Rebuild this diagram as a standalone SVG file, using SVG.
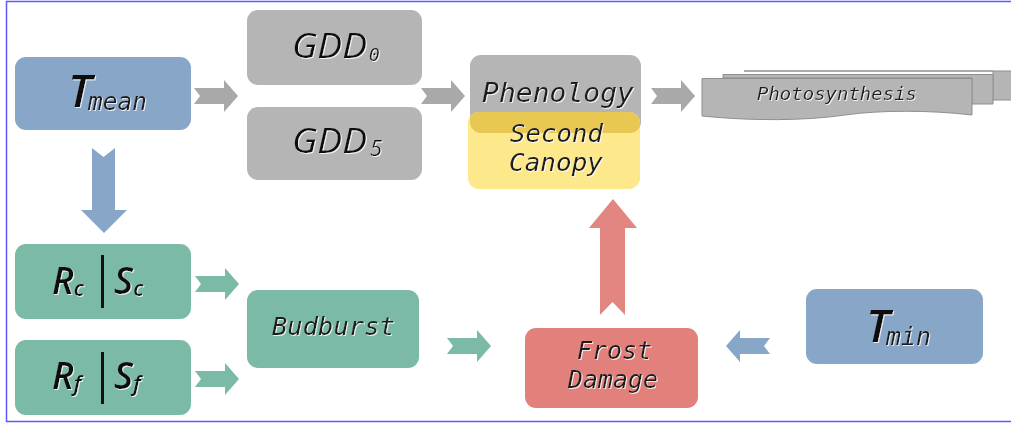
<svg xmlns="http://www.w3.org/2000/svg" width="1011" height="424" viewBox="0 0 1011 424">
  <defs>
    <style>
      .blue { fill: #87a6c8; }
      .gray { fill: #b5b5b5; }
      .teal { fill: #7bbaa7; }
      .red { fill: #e2807b; }
      .yellow { fill: #fde88c; }
      .math { font-family: "Open Sans", "Liberation Sans", sans-serif; font-style: italic; font-weight: 600; fill: #111; }
      .light { font-weight: 400; }
      .mono { font-family: "DejaVu Sans Mono", "Liberation Mono", monospace; font-style: oblique; font-weight: 400; fill: #1a1a1a; }
      .txt { filter: url(#lift); }
    </style>
    <filter id="lift" x="-5%" y="-5%" width="110%" height="120%">
      <feDropShadow dx="0.9" dy="0.9" stdDeviation="0.3" flood-color="#ffffff" flood-opacity="0.9"/>
    </filter>
    <!-- block arrow pointing right, 44 long, 32 high, centred on y=0 -->
    <path id="arrowR" d="M0,-8 H30 V-16 L44,0 L30,16 V8 H0 L6,0 Z"/>
    <clipPath id="phenoClip">
      <rect x="470" y="55" width="171" height="78" rx="11"/>
    </clipPath>
  </defs>

  <!-- frame -->
  <rect x="6.5" y="1.5" width="1010" height="420" fill="#ffffff" stroke="#5a5aff" stroke-width="1.5"/>

  <!-- connectors -->
  <g id="connectors">
    <use href="#arrowR" x="194" y="96" fill="#a9a9a9"/>
    <use href="#arrowR" x="421" y="96" fill="#a9a9a9"/>
    <use href="#arrowR" x="651" y="96" fill="#a9a9a9"/>
    <use href="#arrowR" x="195" y="284" class="teal"/>
    <use href="#arrowR" x="195" y="379" class="teal"/>
    <use href="#arrowR" x="447" y="346" class="teal"/>
    <!-- Tmin to Frost Damage, pointing left -->
    <use href="#arrowR" transform="translate(770,346) scale(-1,1)" fill="#87a6c8"/>
    <!-- Tmean down to Rc|Sc -->
    <path d="M92,148 L103.5,157 L115,148 V210 H127 L104,233 L81,210 H92 Z" fill="#87a6c8"/>
    <!-- Frost Damage up to Second Canopy -->
    <path d="M600,315 L612.5,302 L625,315 V228 H637 L613,199 L589,228 H600 Z" fill="#e38681"/>
  </g>

  <!-- Tmean -->
  <g id="node-tmean">
    <rect class="blue" x="15" y="57" width="176" height="73" rx="11"/>
    <text class="math txt" x="68" y="107" font-size="46">T<tspan class="mono" x="88" dy="3" font-size="25" textLength="59" lengthAdjust="spacingAndGlyphs">mean</tspan></text>
  </g>

  <!-- GDD0 -->
  <g id="node-gdd0">
    <rect class="gray" x="247" y="10" width="175" height="75" rx="11"/>
    <text class="math light txt" x="292" y="58" font-size="34"><tspan textLength="75" lengthAdjust="spacingAndGlyphs">GDD</tspan><tspan class="mono" x="369" dy="3" font-size="18">0</tspan></text>
  </g>

  <!-- GDD5 -->
  <g id="node-gdd5">
    <rect class="gray" x="247" y="107" width="175" height="73" rx="11"/>
    <text class="math light txt" x="292" y="153" font-size="34"><tspan textLength="75" lengthAdjust="spacingAndGlyphs">GDD</tspan><tspan x="370" dy="3" font-size="22">5</tspan></text>
  </g>

  <!-- Phenology with Second Canopy overlapping its lower part -->
  <g id="node-phenology">
    <rect class="gray" x="470" y="55" width="171" height="78" rx="11"/>
    <text class="mono txt" x="482" y="102" font-size="26" textLength="152" lengthAdjust="spacingAndGlyphs">Phenology</text>
  </g>
  <g id="node-second-canopy">
    <rect class="yellow" x="468" y="112" width="172" height="77" rx="11"/>
    <rect x="468" y="112" width="172" height="77" rx="11" fill="#e8c853" clip-path="url(#phenoClip)"/>
    <text class="mono txt" font-size="25">
      <tspan x="510" y="142" textLength="93" lengthAdjust="spacingAndGlyphs">Second</tspan>
      <tspan x="509" y="171" textLength="94" lengthAdjust="spacingAndGlyphs">Canopy</tspan>
    </text>
  </g>

  <!-- Photosynthesis (stacked documents) -->
  <g id="node-photosynthesis" stroke="#8f8f8f" stroke-width="1">
    <path class="gray" d="M744,71 H1016 V100 H993 V71 Z"/>
    <path class="gray" d="M723,74.5 H993 V104 H972 V78 H723 Z"/>
    <path class="gray" d="M702,78.5 H972 V115 C930,110 880,110 845,115 C805,121 750,121 702,116 Z"/>
    <text class="mono txt" x="757" y="100" font-size="18" textLength="160" lengthAdjust="spacingAndGlyphs" stroke="none">Photosynthesis</text>
  </g>

  <!-- Rc | Sc -->
  <g id="node-rc-sc">
    <rect class="teal" x="15" y="244" width="176" height="75" rx="11"/>
    <rect x="101" y="255" width="3" height="53" fill="#111"/>
    <text class="math txt" x="52" y="294" font-size="37">R<tspan dy="2" font-size="22">c</tspan><tspan x="114" y="294">S</tspan><tspan dy="2" font-size="22">c</tspan></text>
  </g>

  <!-- Rf | Sf -->
  <g id="node-rf-sf">
    <rect class="teal" x="15" y="340" width="176" height="75" rx="11"/>
    <rect x="101" y="352" width="3" height="52" fill="#111"/>
    <text class="math txt" x="52" y="389" font-size="37">R<tspan dy="2" font-size="22">f</tspan><tspan x="114" y="389">S</tspan><tspan dy="2" font-size="22">f</tspan></text>
  </g>

  <!-- Budburst -->
  <g id="node-budburst">
    <rect class="teal" x="247" y="290" width="172" height="78" rx="11"/>
    <text class="mono txt" x="272" y="335" font-size="25" textLength="123" lengthAdjust="spacingAndGlyphs">Budburst</text>
  </g>

  <!-- Frost Damage -->
  <g id="node-frost">
    <rect class="red" x="525" y="328" width="173" height="80" rx="11"/>
    <text class="mono txt" font-size="25">
      <tspan x="577" y="359" textLength="75" lengthAdjust="spacingAndGlyphs">Frost</tspan>
      <tspan x="568" y="388" textLength="90" lengthAdjust="spacingAndGlyphs">Damage</tspan>
    </text>
  </g>

  <!-- Tmin -->
  <g id="node-tmin">
    <rect class="blue" x="806" y="289" width="177" height="75" rx="11"/>
    <text class="math txt" x="866" y="342" font-size="46">T<tspan class="mono" x="886" dy="3" font-size="25" textLength="45" lengthAdjust="spacingAndGlyphs">min</tspan></text>
  </g>
</svg>
